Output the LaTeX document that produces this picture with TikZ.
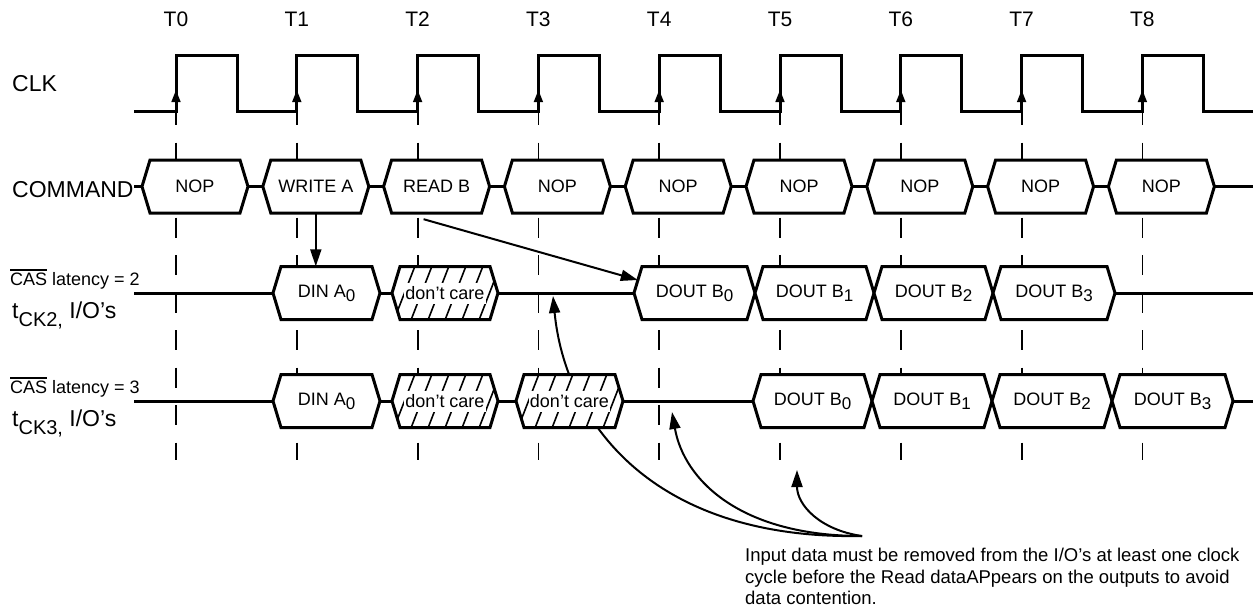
\documentclass[tikz,border=0pt]{standalone}
\usepackage{fontspec}
\setmainfont{Liberation Sans}
\usetikzlibrary{arrows.meta,calc}

\newcommand{\fsz}[1]{\fontsize{#1}{#1}\selectfont}
\newcommand{\lowix}[1]{\raisebox{-4pt}{\fsz{17}#1}}
\newcommand{\barred}[1]{\leavevmode\setbox0\hbox{#1}\rlap{\rule[14.5pt]{\wd0}{1.3pt}}\box0\relax}

\tikzset{
  wave/.style={line width=3pt},
  tline/.style={line width=1.8pt,dash pattern=on 20pt off 17.5pt},
  hexa/.style={insert path={(\bxl,#1) -- (\bxl+8,#1-26.5) -- (\bxr-8,#1-26.5) -- (\bxr,#1) -- (\bxr-8,#1+26.5) -- (\bxl+8,#1+26.5) -- cycle}},
  busline/.style={line width=3pt,line join=miter},
  bustext/.style={inner sep=0pt,font=\fsz{18}},
  hatch/.style={line width=1.6pt},
  link/.style={line width=2pt,-{Triangle[length=17pt,width=11pt]}}
}

\newcommand{\busbox}[5]{%
  \pgfmathsetmacro\bxl{#2}\pgfmathsetmacro\bxr{#3}\pgfmathsetmacro\bxw{#3-(#2)}%
  \draw[busline,fill=white,hexa=#4];
  \node[bustext,minimum width=\bxw pt,minimum height=53pt] (#1) at ({(\bxl+\bxr)/2},#4) {#5};
}
\newcommand{\dcbox}[4]{%
  \pgfmathsetmacro\bxl{#2}\pgfmathsetmacro\bxr{#3}%
  \fill[white,hexa=#4];
  \begin{scope}
    \clip[hexa=#4];
    \foreach \k in {-1,...,7} \draw[hatch] ({\bxl+2+17*\k},#4+27) -- ++(21,-54);
  \end{scope}
  \draw[busline,hexa=#4];
  \node[bustext,fill=white,inner xsep=1pt,minimum height=21pt] (#1) at ({(\bxl+\bxr)/2},#4) {don’t care};
}

\begin{document}
\begin{tikzpicture}[x=1pt,y=-1pt]
    \useasboundingbox (0,0) rectangle (1253,611);
    \foreach \i in {0,...,8} {
        \draw[tline] ({176+120.8*\i},105) -- ({176+120.8*\i},460);
        \node[font=\fsz{21}] (t\i) at ({176+120.8*\i},19) {T\i};
    }
    \draw[wave] (134,111) \foreach \i in {0,...,8} { -- ({176+120.8*\i},111) -- ++(0,-56) -- ++(61,0) -- ++(0,56) } -- (1253,111);
    \foreach \i in {0,...,8} \draw[line width=1.5pt,-{Triangle[length=12pt,width=9pt]}] ({176+120.8*\i},111) -- ++(0,-21);
    \node[anchor=base west,inner sep=0pt,font=\fsz{23}] (clk) at (12,91) {CLK};
    \node[anchor=base west,inner sep=0pt,font=\fsz{23}] (cmdlbl) at (12,197) {COMMAND};
    \node[anchor=base west,inner sep=0pt,font=\fsz{18}] (cas2) at (10,285) {\barred{CAS} latency = 2};
    \node[anchor=base west,inner sep=0pt,font=\fsz{23}] (tck2) at (12,318) {t\raisebox{-8pt}{\fsz{20}CK2,} I/O’s};
    \node[anchor=base west,inner sep=0pt,font=\fsz{18}] (cas3) at (10,393) {\barred{CAS} latency = 3};
    \node[anchor=base west,inner sep=0pt,font=\fsz{23}] (tck3) at (12,426) {t\raisebox{-8pt}{\fsz{20}CK3,} I/O’s};
    \draw[wave] (134,186.5) -- (1253,186.5);
    \draw[wave] (134,293) -- (1253,293);
    \draw[wave] (134,401) -- (1253,401);
    \coordinate (conv) at (862,536);
    \coordinate (gapA) at (553,296);
    \coordinate (gapB) at (672,412);
    \coordinate (gapC) at (797,470);
    \draw[link] (conv) .. controls (650,540) and (565,420) .. (gapA);
    \draw[link] (conv) .. controls (740,536) and (684,480) .. (gapB);
    \draw[link] (conv) .. controls (820,530) and (797,505) .. (gapC);
    \foreach \i/\c in {0/NOP,1/WRITE A,2/READ B,3/NOP,4/NOP,5/NOP,6/NOP,7/NOP,8/NOP}
        \busbox{cmd\i}{176+120.8*\i-34}{176+120.8*\i+72}{186.5}{\c};
    \busbox{dinA2}{273}{380}{293}{DIN A\lowix{0}}
    \dcbox{dc2}{392}{498}{293}
    \foreach \k/\l/\r in {0/634/755,1/755/874,2/874/993,3/993/1115}
        \busbox{rdb\k}{\l}{\r}{293}{DOUT B\lowix{\k}};
    \busbox{dinA3}{273}{380}{401}{DIN A\lowix{0}}
    \dcbox{dc3a}{392}{498}{401}
    \dcbox{dc3b}{516}{623}{401}
    \foreach \k/\l/\r in {0/753/872,1/872/992,2/992/1112,3/1112/1233}
        \busbox{rdc\k}{\l}{\r}{401}{DOUT B\lowix{\k}};
    \draw[link] (cmd1.south) -- (cmd1.south |- dinA2.north);
    \draw[link] ($(cmd2.south)+(-13,6)$) -- ($(rdb0.west)+(4,-13)$);
    \node[anchor=north west,align=left,inner sep=0pt,font=\fontsize{18.5}{21.5}\selectfont] (note) at (745,548) {Input data must be removed from the I/O’s at least one clock\\cycle before the Read dataAPpears on the outputs to avoid\\data contention.};
\end{tikzpicture}
\end{document}
